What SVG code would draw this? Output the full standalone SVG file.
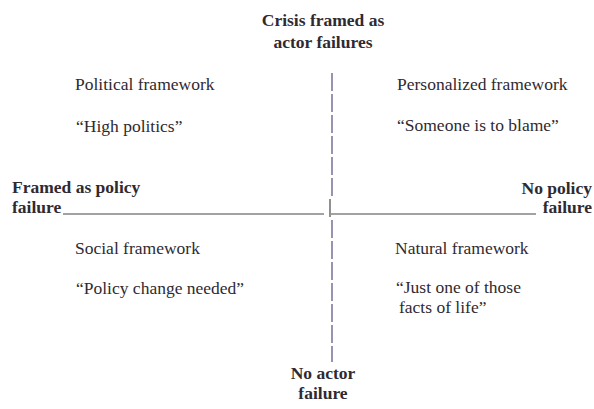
<svg xmlns="http://www.w3.org/2000/svg" width="594" height="409" viewBox="0 0 594 409">
  <style>
    text { font-family: "Liberation Serif", "Times New Roman", serif; fill: #2f2a31; }
    .axis { font-weight: bold; font-size: 17.5px; }
    .quad { font-size: 17.5px; }
    .dash { stroke: #8078a0; stroke-width: 1.6; stroke-dasharray: 18 3; fill: none; }
    .rule { stroke: #4a4548; stroke-width: 1.2; fill: none; }
  </style>
  <rect width="594" height="409" fill="#ffffff"/>

  <!-- axes -->
  <g id="connectors">
    <line class="dash" x1="332" y1="73" x2="332" y2="197"/>
    <line class="dash" x1="332" y1="220" x2="332" y2="362"/>
    <line class="rule" x1="330" y1="199" x2="330" y2="217" stroke="#7a7060" stroke-width="1.6"/>
    <line class="rule" x1="63" y1="214" x2="324" y2="214"/>
    <line class="rule" x1="331" y1="214" x2="536" y2="214"/>
  </g>

  <!-- axis labels -->
  <g id="axis-top">
    <text class="axis" x="323" y="26" text-anchor="middle">Crisis framed as</text>
    <text class="axis" x="323" y="48" text-anchor="middle">actor failures</text>
  </g>
  <g id="axis-bottom">
    <text class="axis" x="323" y="379" text-anchor="middle">No actor</text>
    <text class="axis" x="323" y="399" text-anchor="middle">failure</text>
  </g>
  <g id="axis-left">
    <text class="axis" x="12" y="193">Framed as policy</text>
    <text class="axis" x="12" y="213">failure</text>
  </g>
  <g id="axis-right">
    <text class="axis" x="592" y="194" text-anchor="end">No policy</text>
    <text class="axis" x="592" y="213" text-anchor="end">failure</text>
  </g>

  <!-- quadrants -->
  <g id="political">
    <text class="quad" x="75" y="90">Political framework</text>
    <text class="quad" x="76" y="132">“High politics”</text>
  </g>
  <g id="personalized">
    <text class="quad" x="397" y="90">Personalized framework</text>
    <text class="quad" x="397" y="131">“Someone is to blame”</text>
  </g>
  <g id="social">
    <text class="quad" x="75" y="254">Social framework</text>
    <text class="quad" x="76" y="294">“Policy change needed”</text>
  </g>
  <g id="natural">
    <text class="quad" x="395" y="254">Natural framework</text>
    <text class="quad" x="396" y="293">“Just one of those</text>
    <text class="quad" x="399" y="313">facts of life”</text>
  </g>
</svg>
